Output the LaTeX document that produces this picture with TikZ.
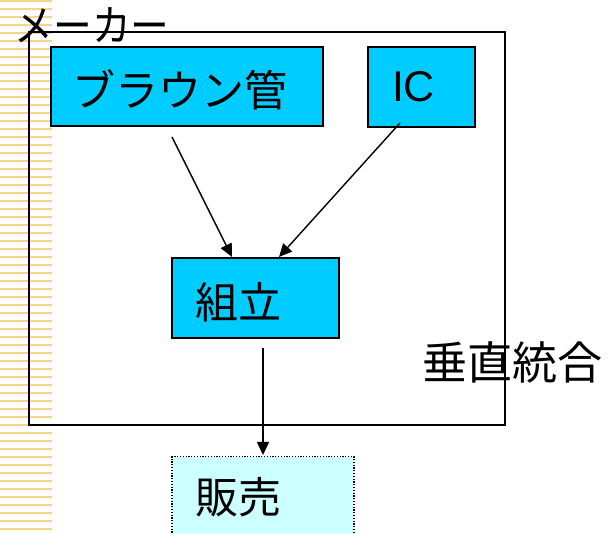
\documentclass[tikz,border=0pt]{standalone}
\usepackage{fontspec}
\setmainfont{Noto Sans CJK JP}
\newfontfamily\latinfont{Liberation Sans}
\usetikzlibrary{arrows.meta}
\definecolor{boxcyan}{RGB}{0,204,255}
\definecolor{palecyan}{RGB}{204,255,255}
\definecolor{stripecol}{RGB}{246,212,140}
\begin{document}
\begin{tikzpicture}[x=1pt,y=-1pt,
  frame/.style={draw=black,line width=1.5pt,inner sep=0pt},
  cbox/.style={draw=black,line width=1.5pt,fill=boxcyan,inner sep=0pt},
  pbox/.style={draw=black,line width=1.2pt,fill=palecyan,inner sep=0pt,
    dash pattern=on 1.2pt off 1.6pt},
  txt/.style={inner sep=0pt,font=\fontsize{43pt}{50pt}\selectfont},
  arr/.style={line width=1.4pt,-{Triangle[length=13pt,width=12pt]}}]
\useasboundingbox (0,0) rectangle (608,534);
\clip (0,0) rectangle (608,534);
% left decorative stripe
\foreach \k in {0,...,67}
  \draw[stripecol,line width=2pt] (0,8*\k+1) -- (52,8*\k+1);
% outer frame
\node (frame) [frame,minimum width=476pt,minimum height=393pt] at (267,228.5) {};
% boxes
\node (braun) [cbox,minimum width=272pt,minimum height=79pt] at (187,86.5) {};
\node (ic) [cbox,minimum width=107pt,minimum height=80pt] at (421.5,87) {};
\node (kumi) [cbox,minimum width=167pt,minimum height=80pt] at (255.5,298) {};
\node (hanbai) [pbox,minimum width=182pt,minimum height=110pt,anchor=north] at (263,456) {};
% texts
\node (tbraun) [txt] at (179.5,90) {ブラウン管};
\node (tic) [txt] at (413.5,86.5) {\latinfont IC};
\node (tkumi) [txt] at (238.5,302.5) {組立};
\node (thanbai) [txt] at (238.5,497) {販売};
\node (tmaker) [txt] at (92,25) {\scalebox{0.9}[1]{メーカー}};
\node (tvert) [txt,font=\fontsize{45pt}{50pt}\selectfont] at (512,362.5) {垂直統合};
% connectors
\coordinate (s1) at (172,137);
\coordinate (e1) at (232,257);
\coordinate (s2) at (400,123);
\coordinate (e2) at (279,257);
\coordinate (s3) at (263,348);
\coordinate (e3) at (263,455);
\draw[arr] (s1) -- (e1);
\draw[arr] (s2) -- (e2);
\draw[arr] (s3) -- (e3);
\end{tikzpicture}
\end{document}
